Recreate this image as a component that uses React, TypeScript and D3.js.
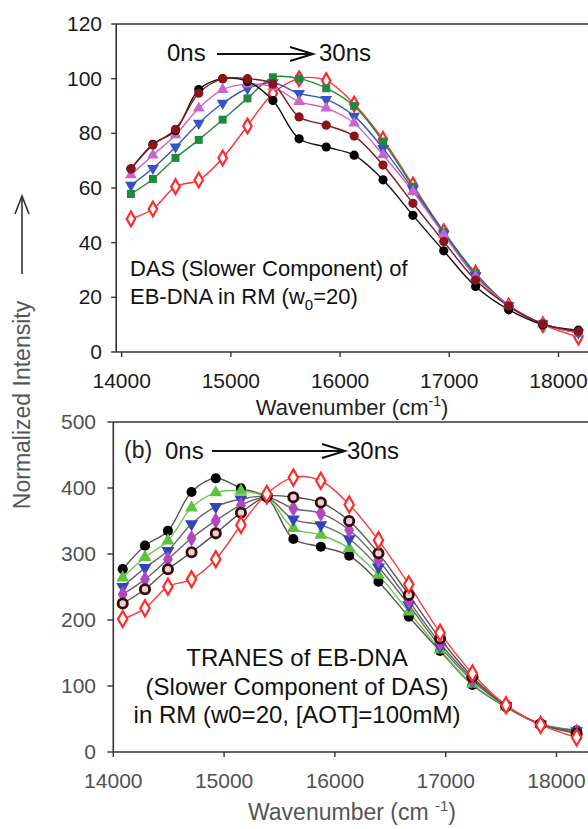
import React from "react";
import * as d3 from "d3";

const wavenumbers = [14085, 14286, 14493, 14706, 14925, 15152, 15385, 15625, 15873, 16129, 16393, 16667, 16949, 17241, 17544, 17857, 18182];

// Panel (a): DAS slower component
const dasBlack = [67, 76, 81, 96, 100, 99, 92, 78, 75, 72, 63, 50, 37, 24, 15.5, 10, 8];
const dasMaroon = [67, 75.7, 81.5, 94.7, 100, 100, 98, 86, 83, 79, 68.4, 54.4, 40.4, 26.3, 16.8, 10.3, 7.5];
const dasPurple = [64.8, 72, 79.4, 89.2, 96, 98, 97, 91.6, 89.2, 83.7, 72.1, 58.7, 43, 27.5, 17, 10.3, 7];
const dasBlue = [61, 67.2, 75, 83.7, 91, 96.4, 98.5, 94.6, 92.4, 86.3, 74.5, 59.5, 43.5, 28, 17, 10.3, 7];
const dasGreen = [57.8, 63.3, 71, 77.6, 85, 92.8, 100.5, 100, 96.5, 90, 77, 60.5, 44, 28.8, 17, 10.3, 7];
const dasRed = [48.7, 52.3, 60.5, 62.9, 71, 82.7, 94.6, 100, 99.3, 90.7, 77.8, 61.1, 44, 28.8, 16.8, 10, 5.5];

// Panel (b): TRANES
const trBlack = [277, 312.6, 335, 394, 414.7, 399.5, 386, 322.7, 311, 297.4, 258, 205, 153, 101.5, 68, 42, 33];
const trGreen = [264, 295, 320, 370, 393, 395.5, 386, 339, 328.8, 308.6, 268, 212.6, 155, 103, 69, 42, 32];
const trBlue = [250.5, 279, 305, 345.5, 371.7, 383, 386, 352.5, 344, 322.7, 280, 222.7, 160, 108, 70, 42, 32];
const trPurple = [239, 261.6, 292, 323.8, 350.5, 374, 386, 369, 361.6, 336.4, 291, 229, 164.7, 111, 70, 42, 30];
const trBrown = [225, 246.5, 277, 302.6, 331.3, 362.6, 387, 386, 378, 350, 301, 238, 172, 114, 70, 42, 28];
const trRed = [201.5, 217.7, 250.5, 261.6, 292, 344, 391, 416, 411, 375, 321, 254, 180.8, 119, 71, 41, 22];

const topYTicks = [0, 20, 40, 60, 80, 100, 120];
const botYTicks = [0, 100, 200, 300, 400, 500];
const xTicks = [14000, 15000, 16000, 17000, 18000];

const FONT = "'Liberation Sans', Arial, sans-serif";

type Marker = "circle" | "triUp" | "triDown" | "square" | "diamondOpen" | "diamond" | "ring";

interface Series {
  values: number[];
  marker: Marker;
  color: string;
  line: string;
}

const topSeries: Series[] = [
  { values: dasRed, marker: "diamondOpen", color: "#ff2a2a", line: "#ff3030" },
  { values: dasGreen, marker: "square", color: "#1f8a3c", line: "#1f8a3c" },
  { values: dasBlue, marker: "triDown", color: "#3553c8", line: "#3553c8" },
  { values: dasPurple, marker: "triUp", color: "#c865c8", line: "#c865c8" },
  { values: dasBlack, marker: "circle", color: "#000000", line: "#111111" },
  { values: dasMaroon, marker: "circle", color: "#8a1518", line: "#8a1518" },
];

const botSeries: Series[] = [
  { values: trBlack, marker: "circle", color: "#000000", line: "#555555" },
  { values: trGreen, marker: "triUp", color: "#5cc43a", line: "#6cc84a" },
  { values: trBlue, marker: "triDown", color: "#3344bb", line: "#666666" },
  { values: trPurple, marker: "diamond", color: "#b046c0", line: "#666666" },
  { values: trBrown, marker: "ring", color: "#3a0808", line: "#555555" },
  { values: trRed, marker: "diamondOpen", color: "#ff2a2a", line: "#ff3a3a" },
];

function MarkerShape({ x, y, m, color, s }: { x: number; y: number; m: Marker; color: string; s: number }) {
  const sym = (type: d3.SymbolType, size: number) => d3.symbol().type(type).size(size)() || "";
  switch (m) {
    case "circle":
      return <circle cx={x} cy={y} r={4.6 * s} fill={color} />;
    case "ring":
      return <circle cx={x} cy={y} r={4.2 * s} fill="#e0d4d4" stroke={color} strokeWidth={2.6 * s} />;
    case "square":
      return <path d={sym(d3.symbolSquare, 64 * s * s)} transform={`translate(${x},${y})`} fill={color} />;
    case "triUp":
      return <path d={sym(d3.symbolTriangle, 60 * s * s)} transform={`translate(${x},${y})`} fill={color} />;
    case "triDown":
      return <path d={sym(d3.symbolTriangle, 60 * s * s)} transform={`translate(${x},${y}) rotate(180)`} fill={color} />;
    case "diamond":
      return <path d={sym(d3.symbolDiamond, 70 * s * s)} transform={`translate(${x},${y})`} fill={color} />;
    case "diamondOpen":
      return <path d={sym(d3.symbolDiamond, 62 * s * s)} transform={`translate(${x},${y})`} fill="#fff" stroke={color} strokeWidth={2.2} />;
  }
}

function Panel({
  series, xScale, yScale, yTicks, tickColor, markerScale, yTickLen, yLabelX, xLabelY,
}: {
  series: Series[];
  xScale: d3.ScaleLinear<number, number>;
  yScale: d3.ScaleLinear<number, number>;
  yTicks: number[];
  tickColor: string;
  markerScale: number;
  yTickLen: number;
  yLabelX: number;
  xLabelY: number;
}) {
  const [x0, x1] = xScale.range();
  const [yb, yt] = yScale.range();
  const line = d3.line<number>()
    .x((_, i) => xScale(wavenumbers[i]))
    .y((d) => yScale(d))
    .curve(d3.curveCatmullRom.alpha(0.5));
  return (
    <g>
      {series.map((s, k) => (
        <path key={"l" + k} d={line(s.values) || ""} fill="none" stroke={s.line} strokeWidth={1.4} />
      ))}
      {series.map((s, k) => (
        <g key={"m" + k}>
          {s.values.map((v, i) => (
            <MarkerShape key={i} x={xScale(wavenumbers[i])} y={yScale(v)} m={s.marker} color={s.color} s={markerScale} />
          ))}
        </g>
      ))}
      {/* frame */}
      <line x1={x0} y1={yb} x2={x1 + 10} y2={yb} stroke="#333" strokeWidth={1.6} />
      <line x1={x0} y1={yt} x2={x1 + 10} y2={yt} stroke="#333" strokeWidth={1.6} />
      <line x1={x0} y1={yb} x2={x0} y2={yt} stroke="#333" strokeWidth={1.6} />
      {yTicks.map((t) => (
        <g key={"yt" + t}>
          <line x1={x0 - yTickLen} x2={x0} y1={yScale(t)} y2={yScale(t)} stroke="#333" strokeWidth={1.4} />
          <text x={yLabelX} y={yScale(t) + 7} textAnchor="end" fontFamily={FONT} fontSize={21} fill={tickColor}>{t}</text>
        </g>
      ))}
      {xTicks.map((t) => (
        <g key={"xt" + t}>
          <line x1={xScale(t)} x2={xScale(t)} y1={yb} y2={yb + 5} stroke="#333" strokeWidth={1.4} />
          <text x={xScale(t)} y={xLabelY} textAnchor="middle" fontFamily={FONT} fontSize={21} fill={tickColor}>{t}</text>
        </g>
      ))}
    </g>
  );
}

export default function App() {
  const xTop = d3.scaleLinear().domain([13950, 18250]).range([116.2, 585.8]);
  const yTop = d3.scaleLinear().domain([0, 120]).range([352, 24]);
  const xBot = d3.scaleLinear().domain([14000, 18250]).range([113.3, 584.2]);
  const yBot = d3.scaleLinear().domain([0, 500]).range([752, 422]);

  return (
    <svg width={588} height={829} style={{ position: "absolute", left: 0, top: 0, background: "#fff" }}>
      <rect width={588} height={829} fill="#fff" />
      <Panel series={topSeries} xScale={xTop} yScale={yTop} yTicks={topYTicks} tickColor="#1a1a1a" markerScale={1} yTickLen={5} yLabelX={102} xLabelY={388} />
      <Panel series={botSeries} xScale={xBot} yScale={yBot} yTicks={botYTicks} tickColor="#505050" markerScale={1.1} yTickLen={6} yLabelX={96} xLabelY={788} />

      {/* top annotations */}
      <text x={167} y={61} fontFamily={FONT} fontSize={24} fill="#111">0ns</text>
      <line x1={217} y1={54} x2={312} y2={54} stroke="#111" strokeWidth={2} />
      <polyline points="290,47 313,54 290,61" fill="none" stroke="#111" strokeWidth={2} />
      <text x={319} y={61} fontFamily={FONT} fontSize={24} fill="#111">30ns</text>
      <text x={130} y={276} fontFamily={FONT} fontSize={22} fill="#111">DAS (Slower Component) of</text>
      <text x={130} y={304} fontFamily={FONT} fontSize={22} fill="#111">
        EB-DNA in RM (w<tspan dy={6} fontSize={15}>0</tspan><tspan dy={-6}>=20)</tspan>
      </text>
      <text x={352} y={415} textAnchor="middle" fontFamily={FONT} fontSize={22} fill="#222">
        Wavenumber (cm<tspan dy={-9} fontSize={14}>-1</tspan><tspan dy={9}>)</tspan>
      </text>

      {/* bottom annotations */}
      <text x={124} y={458} fontFamily={FONT} fontSize={23} fill="#222">(b)</text>
      <text x={165} y={459} fontFamily={FONT} fontSize={24} fill="#111">0ns</text>
      <line x1={212} y1={451} x2={344} y2={451} stroke="#111" strokeWidth={2} />
      <polyline points="322,444 345,451 322,458" fill="none" stroke="#111" strokeWidth={2} />
      <text x={347} y={459} fontFamily={FONT} fontSize={24} fill="#111">30ns</text>
      <text x={297} y={666} textAnchor="middle" fontFamily={FONT} fontSize={24} fill="#111">TRANES of EB-DNA</text>
      <text x={297} y={695} textAnchor="middle" fontFamily={FONT} fontSize={24} fill="#111">(Slower Component of DAS)</text>
      <text x={297} y={723} textAnchor="middle" fontFamily={FONT} fontSize={24} fill="#111">in RM (w0=20, [AOT]=100mM)</text>
      <text x={352} y={820} textAnchor="middle" fontFamily={FONT} fontSize={23} fill="#555">
        Wavenumber (cm <tspan dy={-9} fontSize={15}>-1</tspan><tspan dy={9}>)</tspan>
      </text>

      {/* y axis title */}
      <text transform="translate(30,405) rotate(-90)" textAnchor="middle" fontFamily={FONT} fontSize={23} fill="#555">Normalized Intensity</text>
      <line x1={22} y1={274} x2={22} y2={198} stroke="#333" strokeWidth={1.6} />
      <polyline points="15,214 22,196 29,214" fill="none" stroke="#333" strokeWidth={1.6} />
    </svg>
  );
}
